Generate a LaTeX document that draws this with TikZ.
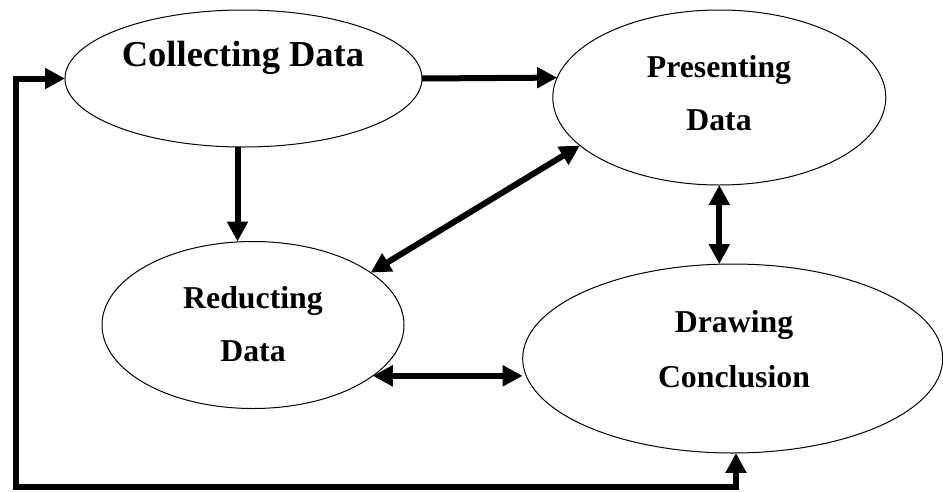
\documentclass[tikz,border=0pt]{standalone}
\usepackage{fontspec}
\setmainfont{Liberation Serif}
\usetikzlibrary{arrows.meta,shapes.geometric}
\tikzset{
  ell/.style={draw, ellipse, line width=1pt, inner sep=0pt, outer sep=0pt},
  lbl/.style={anchor=base, inner sep=0pt, font=\bfseries\fontsize{31.8}{38}\selectfont},
  biglbl/.style={anchor=base, inner sep=0pt, font=\bfseries\fontsize{36.5}{44}\selectfont},
  conn/.style={line width=6pt, line join=miter},
  tipA/.style={conn, -{Triangle[length=20pt,width=20pt]}},
  tipAB/.style={conn, {Triangle[length=20pt,width=20pt]}-{Triangle[length=20pt,width=20pt]}}
}
\begin{document}
\begin{tikzpicture}[x=1pt,y=-1pt]
\useasboundingbox (0,0) rectangle (943,491);
% ellipses
\node[ell, minimum width=357pt, minimum height=137pt] (col) at (243.5,78.5) {};
\node[ell, minimum width=333pt, minimum height=175pt] (pres) at (719.3,97.5) {};
\node[ell, minimum width=302pt, minimum height=167pt] (red) at (253,325) {};
\node[ell, minimum width=420pt, minimum height=189pt] (drw) at (732.7,358.5) {};
% labels
\node[biglbl] (colt) at (243,66.7) {Collecting Data};
\node[lbl] (prest1) at (719,77.3) {Presenting};
\node[lbl] (prest2) at (719,130.7) {Data};
\node[lbl] (redt1) at (253,308.3) {Reducting};
\node[lbl] (redt2) at (253,361.7) {Data};
\node[lbl] (drwt1) at (734,332.7) {Drawing};
\node[lbl] (drwt2) at (734,387.7) {Conclusion};
% connectors
\draw[tipA] (col.east) -- (pres.173);
\draw[tipA] (col.265) -- (col.265 |- red.north);
\draw[tipAB] (red.24) -- (pres.199);
\draw[tipAB] (pres.south) -- (pres.south |- drw.north);
\draw[tipAB] (red.-23) -- (red.-23 -| drw.west);
\coordinate (fbL) at (16,487);
\draw[tipAB] (col.west) -- (fbL |- col.west) -- (fbL) -| (drw.-88);
\end{tikzpicture}
\end{document}
